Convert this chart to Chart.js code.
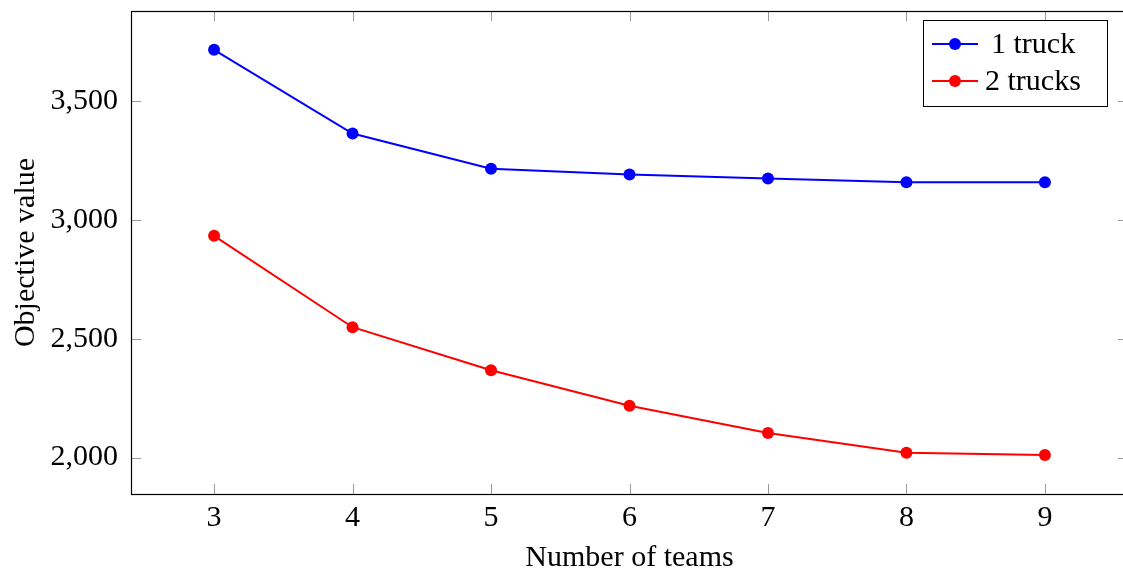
<!DOCTYPE html>
<html>
<head>
<meta charset="utf-8">
<script src="https://cdn.jsdelivr.net/npm/chart.js@4/dist/chart.umd.min.js"></script>
<style>
  html, body { margin: 0; padding: 0; background: #fff; overflow: hidden; }
  #wrap { width: 1135px; height: 576px; }
</style>
</head>
<body>
<div id="wrap"><canvas id="chart"></canvas></div>
<script>
// data
const teams = [3, 4, 5, 6, 7, 8, 9];
const oneTruck = [3714, 3362, 3214, 3190, 3173, 3157, 3157];
const twoTrucks = [2932, 2548, 2367, 2218, 2103, 2020, 2011];
const yTicks = [2000, 2500, 3000, 3500];
const seriesNames = ['1 truck', '2 trucks'];
const seriesColors = ['#0000ff', '#ff0000'];

const FONT = '"Liberation Serif", "DejaVu Serif", serif';

// pgfplots-like box with inward ticks on all four sides + legend
const boxPlugin = {
  id: 'box',
  afterDraw(chart) {
    const { ctx, chartArea: a, scales } = chart;
    ctx.save();
    ctx.strokeStyle = '#999';
    ctx.lineWidth = 1;
    ctx.beginPath();
    scales.x.ticks.forEach(t => {
      const px = Math.round(scales.x.getPixelForValue(t.value)) + 0.5;
      ctx.moveTo(px, a.bottom); ctx.lineTo(px, a.bottom - 10);
      ctx.moveTo(px, a.top); ctx.lineTo(px, a.top + 10);
    });
    scales.y.ticks.forEach(t => {
      const py = Math.round(scales.y.getPixelForValue(t.value)) + 0.5;
      ctx.moveTo(a.left, py); ctx.lineTo(a.left + 10, py);
      ctx.moveTo(a.right, py); ctx.lineTo(a.right - 10, py);
    });
    ctx.stroke();

    ctx.strokeStyle = '#000';
    ctx.lineWidth = 1.2;
    ctx.strokeRect(Math.round(a.left) + 0.5, Math.round(a.top) + 0.5,
      Math.round(a.right - a.left), Math.round(a.bottom - a.top));

    // legend
    const lx = 923, ly = 20, lw = 184, lh = 86;
    ctx.fillStyle = '#fff';
    ctx.fillRect(lx, ly, lw, lh);
    ctx.strokeStyle = '#000';
    ctx.lineWidth = 1;
    ctx.strokeRect(lx + 0.5, ly + 0.5, lw, lh);
    ctx.font = '30px ' + FONT;
    ctx.textBaseline = 'middle';
    ctx.textAlign = 'left';
    seriesNames.forEach((name, i) => {
      const cy = ly + 24 + i * 37;
      ctx.strokeStyle = seriesColors[i];
      ctx.lineWidth = 2;
      ctx.beginPath();
      ctx.moveTo(lx + 9, cy); ctx.lineTo(lx + 55, cy);
      ctx.stroke();
      ctx.fillStyle = seriesColors[i];
      ctx.beginPath();
      ctx.arc(lx + 32, cy, 6, 0, Math.PI * 2);
      ctx.fill();
      ctx.fillStyle = '#000';
      ctx.fillText(name, lx + (i === 0 ? 68 : 62), cy + 1);
    });
    ctx.restore();
  }
};

const mkSeries = (label, values, color) => ({
  label,
  data: teams.map((t, i) => ({ x: t, y: values[i] })),
  borderColor: color,
  backgroundColor: color,
  borderWidth: 2,
  pointRadius: 6,
  pointHoverRadius: 6,
  pointBorderWidth: 0,
  tension: 0,
  clip: false
});

new Chart(document.getElementById('chart'), {
  type: 'line',
  data: {
    datasets: [
      mkSeries(seriesNames[0], oneTruck, seriesColors[0]),
      mkSeries(seriesNames[1], twoTrucks, seriesColors[1])
    ]
  },
  options: {
    responsive: true,
    maintainAspectRatio: false,
    animation: false,
    layout: { padding: { top: 11, right: 7, left: 0, bottom: 0 } },
    plugins: { legend: { display: false }, tooltip: { enabled: false } },
    scales: {
      x: {
        type: 'linear',
        min: 2.4,
        max: 9.6,
        afterBuildTicks: s => { s.ticks = teams.map(v => ({ value: v })); },
        afterFit: s => { s.height = 82; s.paddingLeft = 0; s.paddingRight = 0; },
        grid: { display: false, drawTicks: false },
        border: { display: false },
        ticks: {
          padding: 6,
          color: '#000',
          font: { family: FONT, size: 30 },
          maxRotation: 0
        },
        title: {
          display: true,
          text: 'Number of teams',
          color: '#000',
          font: { family: FONT, size: 30 },
          padding: { top: 0, bottom: 0 }
        }
      },
      y: {
        min: 1847,
        max: 3877,
        afterBuildTicks: s => { s.ticks = yTicks.map(v => ({ value: v })); },
        afterFit: s => { s.width = 131; s.paddingTop = 0; s.paddingBottom = 0; },
        grid: { display: false, drawTicks: false },
        border: { display: false },
        ticks: {
          padding: 13,
          color: '#000',
          font: { family: FONT, size: 30 },
          callback: v => v.toLocaleString('en-US')
        },
        title: {
          display: true,
          text: 'Objective value',
          color: '#000',
          font: { family: FONT, size: 30 },
          padding: { top: 8, bottom: 0 }
        }
      }
    }
  },
  plugins: [boxPlugin]
});
</script>
</body>
</html>
